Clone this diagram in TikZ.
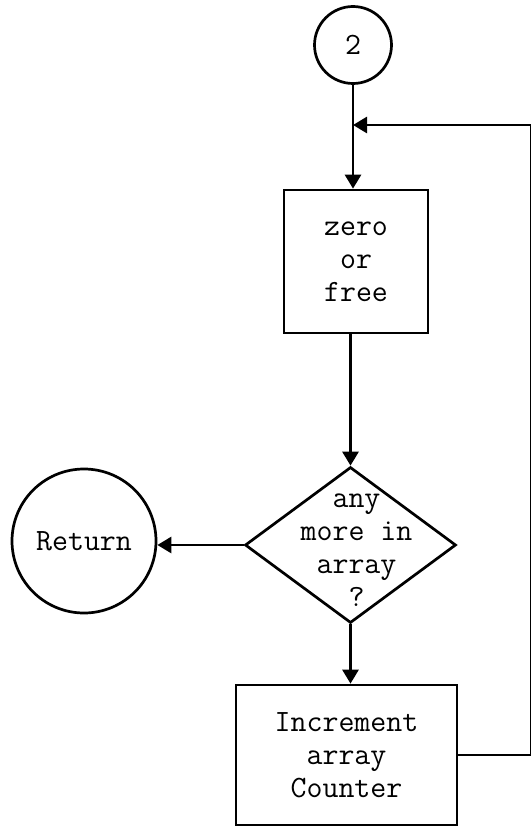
\documentclass[tikz,border=0pt]{standalone}
\usetikzlibrary{shapes.geometric}
\usetikzlibrary{arrows.meta}

\begin{document}
\begin{tikzpicture}[x=0.5pt, y=-0.5pt, line width=1.35pt,
    txt/.style={font=\fontsize{15.5}{16.5}\selectfont\ttfamily, align=center},
    proc/.style={draw, rectangle, txt},
    term/.style={draw, circle, txt, inner sep=0pt},
    test/.style={draw, diamond, inner sep=0pt},
    flow/.style={-{Triangle[length=7pt,width=8pt]}}]
        \useasboundingbox (0,0) rectangle (530,829);
        % nodes
        \node[term, minimum size=38.5pt] (c2) at (353,45) {2};
        \node[proc, minimum width=72pt, minimum height=71.5pt] (zero) at (356,261.5) {zero\\or\\free};
        \node[test, minimum width=105.5pt, minimum height=78pt,
              label={[txt, xshift=3pt, yshift=-2.5pt]center:any\\more in\\array\\?}] (q) at (350.5,545) {};
        \node[term, minimum size=72pt] (ret) at (84,541) {Return};
        \node[proc, minimum width=110.5pt, minimum height=70pt] (inc) at (346.5,755) {Increment\\array\\Counter};
        \coordinate (rt) at (531,125);
        % connectors
        \draw[flow] (c2.south) -- (c2.south |- zero.north);
        \draw[flow] (zero.south -| q.north) -- (q.north);
        \draw[flow] (q.west) -- (q.west -| ret.east);
        \draw[flow] (q.south) -- (q.south |- inc.north);
        \draw[flow] (inc.east) -| (rt) -- (rt -| c2.south);
      \end{tikzpicture}
\end{document}
